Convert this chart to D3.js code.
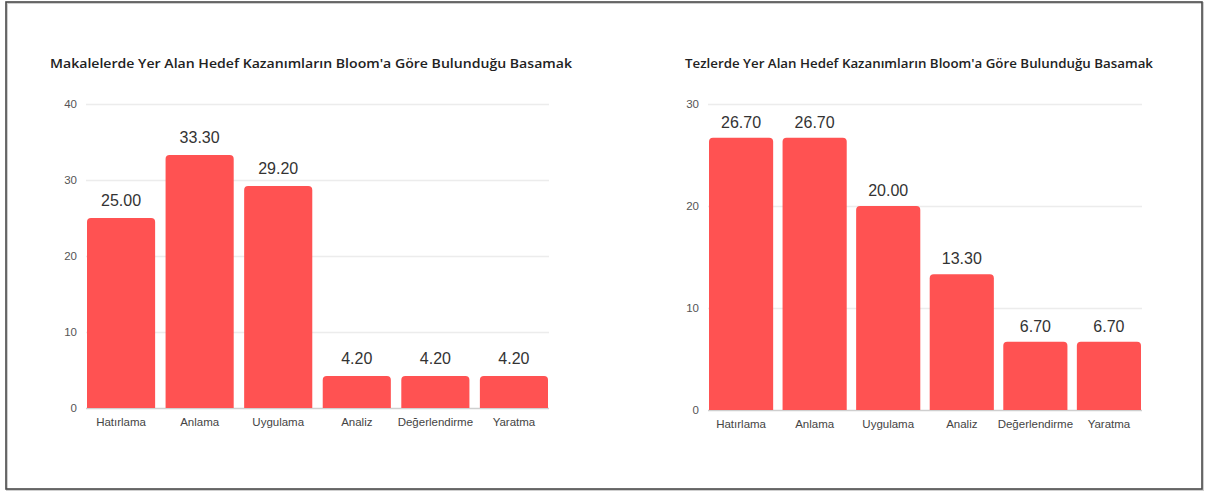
<!DOCTYPE html>
<html><head><meta charset="utf-8">
<script src="https://cdn.jsdelivr.net/npm/d3@7"></script>
<style>
html,body{margin:0;padding:0;background:#fff;}
svg{display:block;}
</style></head>
<body><svg id="c" width="1206" height="493"></svg>
<script>
const categories = ["Hatırlama","Anlama","Uygulama","Analiz","Değerlendirme","Yaratma"];
const makaleValues = [25.00, 33.30, 29.20, 4.20, 4.20, 4.20];
const tezValues = [26.70, 26.70, 20.00, 13.30, 6.70, 6.70];
const makaleTicks = [0, 10, 20, 30, 40];
const tezTicks = [0, 10, 20, 30];
const makaleTitle = "Makalelerde Yer Alan Hedef Kazanımların Bloom'a Göre Bulunduğu Basamak";
const tezTitle = "Tezlerde Yer Alan Hedef Kazanımların Bloom'a Göre Bulunduğu Basamak";

const svg = d3.select("#c");
// frame
svg.append("rect").attr("x",7).attr("y",3).attr("width",1196).attr("height",487)
  .attr("fill","none").attr("stroke","#cfcfcf").attr("stroke-width",2);
svg.append("rect").attr("x",6).attr("y",2).attr("width",1196).attr("height",487)
  .attr("fill","none").attr("stroke","#4a4a4a").attr("stroke-width",1.6);

function drawChart(cfg){
  const g = svg.append("g");
  g.append("text").attr("x",cfg.titleX).attr("y",68)
    .attr("font-family","'Open Sans', Lato, sans-serif").attr("font-weight",600)
    .attr("font-size",13).attr("fill","#222")
    .attr("textLength",cfg.titleW).attr("lengthAdjust","spacingAndGlyphs").text(cfg.title);
  const x = d3.scaleBand().domain(categories).range([cfg.x0,cfg.x1]).paddingInner(cfg.pad).paddingOuter(0);
  const y = d3.scaleLinear().domain([0,cfg.max]).range([cfg.y0,cfg.yTop]);
  // grid
  const yAxis = d3.axisLeft(y).tickValues(cfg.ticks).tickSize(-(cfg.x1-cfg.gx0+1)).tickPadding(9).tickFormat(d3.format("d"));
  const ya = g.append("g").attr("transform",`translate(${cfg.gx0},0)`).call(yAxis);
  ya.select(".domain").remove();
  ya.selectAll(".tick line").attr("stroke",d=>d===0?"#cfcfcf":"#ececec").attr("stroke-width",d=>d===0?1.5:1.3);
  ya.selectAll(".tick text").attr("font-family","'Liberation Sans', Arial, sans-serif").attr("font-size",11.5).attr("fill","#555");
  // bars
  const r = 4;
  g.selectAll("path.bar").data(cfg.values).join("path").attr("class","bar")
    .attr("fill","#ff5252")
    .attr("d",(d,i)=>{
      const bx = x(categories[i]), bw = x.bandwidth(), top = y(d), bot = y(0);
      return `M${bx},${bot}V${top+r}Q${bx},${top} ${bx+r},${top}H${bx+bw-r}Q${bx+bw},${top} ${bx+bw},${top+r}V${bot}Z`;
    });
  // value labels
  g.selectAll("text.val").data(cfg.values).join("text").attr("class","val")
    .attr("x",(d,i)=>x(categories[i])+x.bandwidth()/2)
    .attr("y",d=>y(d)-cfg.labOff)
    .attr("text-anchor","middle")
    .attr("font-family","'Liberation Sans', Arial, sans-serif").attr("font-size",16).attr("fill","#333")
    .text(d=>d.toFixed(2));
  // x labels
  const xa = g.append("g").attr("transform",`translate(0,${cfg.y0})`).call(d3.axisBottom(x).tickSize(0).tickPadding(10));
  xa.select(".domain").remove();
  xa.selectAll(".tick text").attr("font-family","'Liberation Sans', Arial, sans-serif").attr("font-size",11.5).attr("fill","#444");
}

drawChart({title:makaleTitle,titleX:50,titleW:522,values:makaleValues,ticks:makaleTicks,max:40,
  x0:87,x1:548,gx0:86,pad:0.133,y0:408,yTop:104,labOff:12});
drawChart({title:tezTitle,titleX:685,titleW:468,values:tezValues,ticks:tezTicks,max:30,
  x0:709,x1:1141,gx0:708,pad:0.128,y0:410,yTop:104,labOff:10});
</script></body></html>
